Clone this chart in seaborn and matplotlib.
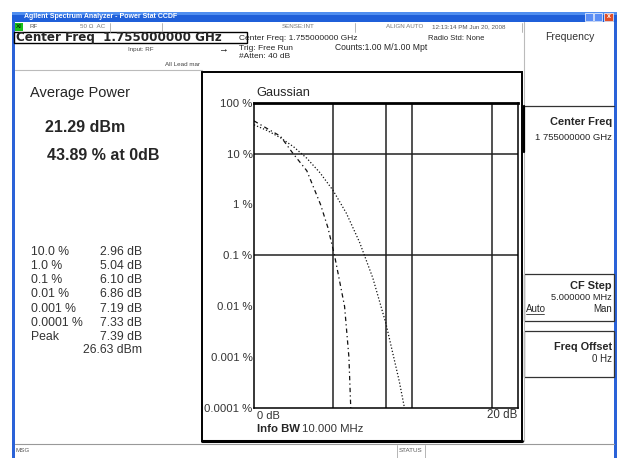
import numpy as np
import pandas as pd
import matplotlib
matplotlib.use("Agg")
import matplotlib.pyplot as plt
import seaborn as sns
from matplotlib.patches import Rectangle
from matplotlib.lines import Line2D

W, H = 619, 458

# measured CCDF trace: dB above average power vs probability (%)
meas_db = [0.0, 1.0, 2.0, 2.96, 4.0, 5.04, 5.6, 6.10, 6.86, 7.19, 7.33]
meas_pct = [43.89, 31.0, 22.0, 10.0, 4.6, 1.0, 0.35, 0.1, 0.01, 0.001, 0.0001]

# gaussian reference trace
gauss_db = [0.0, 1.0, 2.0, 3.0, 4.0, 5.0, 6.0, 7.0, 8.0, 9.0, 10.0, 11.0, 11.4]
gauss_pct = [36.8, 28.4, 20.5, 13.6, 8.1, 4.2, 1.87, 0.67, 0.18, 0.036, 0.0045, 0.00034, 0.0001]

# grid lines that survived in the screen capture
grid_db = [6, 10, 12, 18]
grid_pct = [10, 0.1]

ytick_vals = [100, 10, 1, 0.1, 0.01, 0.001, 0.0001]
ytick_labels = ["100 %", "10 %", "1 %", "0.1 %", "0.01 %", "0.001 %", "0.0001 %"]

# result table on the left
prob_labels = ["10.0 %", "1.0 %", "0.1 %", "0.01 %", "0.001 %", "0.0001 %", "Peak"]
prob_values = ["2.96 dB", "5.04 dB", "6.10 dB", "6.86 dB", "7.19 dB", "7.33 dB", "7.39 dB"]


def fx(x):
    return x / W


def fy(y):
    return 1 - y / H


def txt(x, y, s, size=7, **kw):
    fig.text(fx(x), fy(y), s, fontsize=size, va="center", **kw)


def box(x0, y0, x1, y1, **kw):
    fig.patches.append(Rectangle((fx(x0), fy(y1)), fx(x1) - fx(x0), fy(y0) - fy(y1),
                                 transform=fig.transFigure, **kw))


def hline(x0, x1, y, **kw):
    fig.lines.append(Line2D([fx(x0), fx(x1)], [fy(y), fy(y)], transform=fig.transFigure, **kw))


def vline(x, y0, y1, **kw):
    fig.lines.append(Line2D([fx(x), fx(x)], [fy(y0), fy(y1)], transform=fig.transFigure, **kw))


sns.set_style("white")
plt.rcParams['font.family'] = ['Liberation Sans', 'DejaVu Sans']

fig = plt.figure(figsize=(W / 100, H / 100), dpi=100)
fig.patch.set_facecolor("white")

# window frame and title bar
box(12, 12, 617, 22, facecolor="#1f5fd9", edgecolor="none")
box(12, 12, 617, 15, facecolor="#4f8ef0", edgecolor="none")
box(12, 22, 15, 458, facecolor="#2a62d8", edgecolor="none")
box(614, 22, 617, 458, facecolor="#2a62d8", edgecolor="none")
txt(24, 17, "Agilent Spectrum Analyzer - Power Stat CCDF", size=5, color="white", fontweight="bold")
box(585, 13, 593, 21, facecolor="#5b8ef5", edgecolor="white", linewidth=0.5)
box(594, 13, 602, 21, facecolor="#5b8ef5", edgecolor="white", linewidth=0.5)
box(604, 13, 613, 21, facecolor="#e0502a", edgecolor="white", linewidth=0.5)
txt(608.5, 17, "x", size=5, color="white", ha="center", fontweight="bold")

# status row
box(15, 23, 23, 31, facecolor="#19c219", edgecolor="none")
txt(16, 27, "XI", size=4.5, color="black")
txt(30, 27, "RF", size=4.5, color="#555555")
txt(80, 27, "50 \u03a9  AC", size=4.5, color="#777777")
txt(282, 27, "SENSE:INT", size=4.5, color="#777777")
txt(386, 27, "ALIGN AUTO", size=4.5, color="#777777")
txt(432, 27, "12:13:14 PM Jun 20, 2008", size=4.5, color="#555555")
for sx in [110, 162, 355, 522]:
    vline(sx, 23, 32, color="#aaaaaa", linewidth=0.6)

# center frequency entry box
box(14, 32, 247, 43, facecolor="white", edgecolor="black", linewidth=1.0)
txt(16, 37.5, "Center Freq  1.755000000 GHz", size=8.6, fontweight="bold",
    family="DejaVu Sans")
txt(128, 50, "Input: RF", size=4.5, color="#444444")
txt(218, 49, "\u2192", size=7, color="black")
txt(165, 64, "All Lead mar", size=4.5, color="#444444")
txt(239, 39, "Center Freq: 1.755000000 GHz", size=6)
txt(239, 48, "Trig: Free Run", size=6)
txt(239, 57, "#Atten: 40 dB", size=6)
txt(335, 48, "Counts:1.00 M/1.00 Mpt", size=6.2)
txt(428, 39, "Radio Std: None", size=5.5)

# left result panel
hline(15, 202, 70, color="#bbbbbb", linewidth=0.8)
txt(30, 93, "Average Power", size=10.5)
txt(45, 128, "21.29 dBm", size=11.5, fontweight="bold")
txt(47, 156, "43.89 % at 0dB", size=11.5, fontweight="bold")
row_y = [252, 266, 280, 294, 309, 323, 337]
for yy, lab, val in zip(row_y, prob_labels, prob_values):
    txt(31, yy, lab, size=8.8, color="#333333")
    txt(100, yy, val, size=8.8, color="#333333")
txt(83, 350, "26.63 dBm", size=8.8, color="#333333")

# graph panel outline (no fill so the axes stay visible)
box(202, 72, 522, 441, facecolor="none", edgecolor="black", linewidth=1.4)
hline(202, 522, 441, color="black", linewidth=2.2)
hline(15, 614, 444, color="#999999", linewidth=0.8)

# softkey panel
vline(524, 22, 441, color="#bbbbbb", linewidth=0.8)
txt(545, 37, "Frequency", size=7.5, color="#333333")
hline(524, 614, 106, color="#333333", linewidth=0.9)
vline(524, 106, 152, color="black", linewidth=1.6)
txt(612, 122, "Center Freq", size=7.9, fontweight="bold", ha="right")
txt(612, 137, "1 755000000 GHz", size=6.8, ha="right")
box(524, 274, 614, 321, facecolor="none", edgecolor="#333333", linewidth=0.9)
txt(612, 286, "CF Step", size=7.9, fontweight="bold", ha="right")
txt(612, 297, "5.000000 MHz", size=6.7, ha="right")
txt(526, 309, "Auto", size=7)
hline(526, 544, 314, color="black", linewidth=0.5)
txt(612, 309, "Man", size=7, ha="right")
box(524, 331, 614, 377, facecolor="none", edgecolor="#333333", linewidth=0.9)
txt(612, 347, "Freq Offset", size=7.8, fontweight="bold", ha="right")
txt(612, 359, "0 Hz", size=7, ha="right")

# bottom status bar
txt(15, 451, "MSG", size=4.5, color="#555555")
vline(397, 445, 458, color="#aaaaaa", linewidth=0.6)
vline(425, 445, 458, color="#aaaaaa", linewidth=0.6)
txt(399, 451, "STATUS", size=4.5, color="#555555")

# CCDF plot
ax = fig.add_axes([fx(254), fy(408), fx(518) - fx(254), fy(102.7) - fy(408)])
ax.set_zorder(3)
ax.patch.set_alpha(0)
meas = pd.DataFrame({"dB": meas_db, "pct": meas_pct})
gauss = pd.DataFrame({"dB": gauss_db, "pct": gauss_pct})
sns.lineplot(data=gauss, x="dB", y="pct", ax=ax, color="#111111", linewidth=0.9,
             linestyle=(0, (1, 1.6)), estimator=None)
sns.lineplot(data=meas, x="dB", y="pct", ax=ax, color="#111111", linewidth=0.9,
             linestyle=(0, (3.5, 2.5, 1, 2.5)), estimator=None)
ax.set_yscale("log")
ax.set_xlim(0, 20)
ax.set_ylim(0.0001, 100)
for g in grid_db:
    ax.axvline(g, color="#222222", linewidth=1.1, zorder=0)
for g in grid_pct:
    ax.axhline(g, color="#222222", linewidth=1.1, zorder=0)
ax.set_xticks([])
ax.set_yticks(ytick_vals)
ax.set_yticklabels(ytick_labels, fontsize=8.2, color="#333333")
ax.yaxis.set_minor_locator(matplotlib.ticker.NullLocator())
ax.tick_params(axis="y", length=0, pad=1)
ax.set_xlabel("")
ax.set_ylabel("")
for side in ["left", "right", "bottom"]:
    ax.spines[side].set_color("black")
    ax.spines[side].set_linewidth(1.1)
ax.spines["top"].set_color("black")
ax.spines["top"].set_linewidth(2.0)

txt(256, 93, "Gaussian", size=9.2)
txt(257, 416, "0 dB", size=8, color="#333333")
txt(517, 415, "20 dB", size=8.3, color="#333333", ha="right")
txt(257, 429, "Info BW", size=8.2, fontweight="bold")
txt(302, 429, "10.000 MHz", size=8.2, color="#333333")

fig.savefig("out.png", dpi=100)
